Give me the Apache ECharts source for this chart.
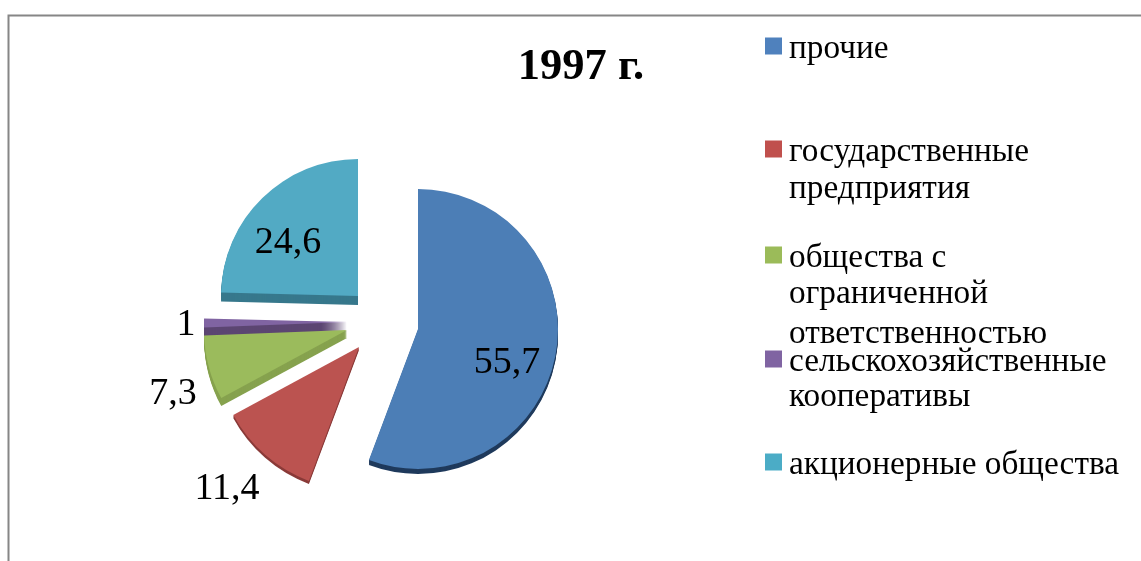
<!DOCTYPE html>
<html><head><meta charset="utf-8">
<style>html,body{margin:0;padding:0;background:#fff}#c{width:1141px;height:561px}</style>
<script src="https://cdn.jsdelivr.net/npm/echarts@6/dist/echarts.min.js"></script>
</head><body><div id="c"></div>
<script>
const chartTitle = '1997 г.';
const categories = ['прочие','государственные\nпредприятия','общества с\nограниченной\nответственностью','сельскохозяйственные\nкооперативы','акционерные общества'];
const values = [55.7, 11.4, 7.3, 1, 24.6];
const topColors = ['#4c7eb6','#bb5350','#9bbb5c','#8064a2','#52aac4'];
const legendColors = ['#4f81bd','#c0504d','#9bbb59','#8064a2','#4bacc6'];
const sideColors = ['#1f3a5c','#8a3a38','#86a24e','#5c4672','#37788c'];
const centers = [[418,329],[359,347],[347,330],[347,322],[358,296]];
const radii = [140,143,143,143,137];
const depths = [5,3,8,9,9];
const labelPos = [[507,363],[227,489],[173,394],[186,325],[288,243]];
const legendTops = [27,130,236,340,443];
const moreLineY = [[], [188], [293,333], [396], []];

const font = '"Liberation Serif","Times New Roman",serif';
const series = [];
let cum = 0;
const starts = values.map(v => { const s = 90 - cum*3.6; cum += v; return s; });
const fmt = v => String(v).replace('.',',');

values.forEach((v,i) => {
  for (let k = depths[i]; k >= 1; k--) {
    series.push({
      type:'pie', silent:true, animation:false, z:1,
      center:[centers[i][0], centers[i][1]+k], radius:[0,radii[i]],
      startAngle:starts[i], label:{show:false}, labelLine:{show:false}, emphasis:{disabled:true},
      data:[{value:v, itemStyle:{color:sideColors[i]}},
            {value:100-v, itemStyle:{color:'transparent'}}]
    });
  }
});
values.forEach((v,i) => {
  series.push({
    type:'pie', silent:true, animation:false, z:2, avoidLabelOverlap:false,
    center:centers[i], radius:[0,radii[i]], startAngle:starts[i],
    labelLine:{show:false}, emphasis:{disabled:true},
    labelLayout:{x:labelPos[i][0], y:labelPos[i][1], align:'center', verticalAlign:'middle'},
    data:[{name:categories[i], value:v, itemStyle:{color:topColors[i]},
           label:{show:true, position:'inside', formatter:()=>fmt(v), color:'#000', fontFamily:font, fontSize:38}},
          {value:100-v, itemStyle:{color:'transparent'}, label:{show:false}, labelLine:{show:false}}]
  });
});

const legend = categories.map((name,i) => ({
  left:765, top:legendTops[i], padding:0, orient:'vertical', selectedMode:false,
  itemWidth:17, itemHeight:17, icon:'rect', data:[{name, itemStyle:{color:legendColors[i]}}],
  formatter:n => '{s| }\n{a|' + n.split('\n')[0] + '}',
  textStyle:{color:'#000', fontFamily:font, fontSize:33.3, padding:[0,0,0,2],
    rich:{s:{fontSize:1,lineHeight:7,padding:0}, a:{color:'#000',fontFamily:font,fontSize:33.3,lineHeight:37}}}
}));

const graphic = [
  {type:'polyline', silent:true, shape:{points:[[8.5,561],[8.5,15.5],[1141,15.5]]}, style:{stroke:'#868686', lineWidth:2, fill:null}}
];
categories.forEach((name,i) => {
  name.split('\n').slice(1).forEach((line,j) => {
    graphic.push({type:'text', silent:true, left:789, top:moreLineY[i][j]-15,
      style:{text:line, fill:'#000', font:'33.3px '+font}});
  });
});

const chart = echarts.init(document.getElementById('c'));
chart.setOption({
  backgroundColor:'#fff', animation:false,
  title:{text:chartTitle, left:581, top:45, textAlign:'center', padding:0,
    textStyle:{color:'#000', fontFamily:font, fontSize:44.5, fontWeight:'bold'}},
  legend, series, graphic
});
</script></body></html>
